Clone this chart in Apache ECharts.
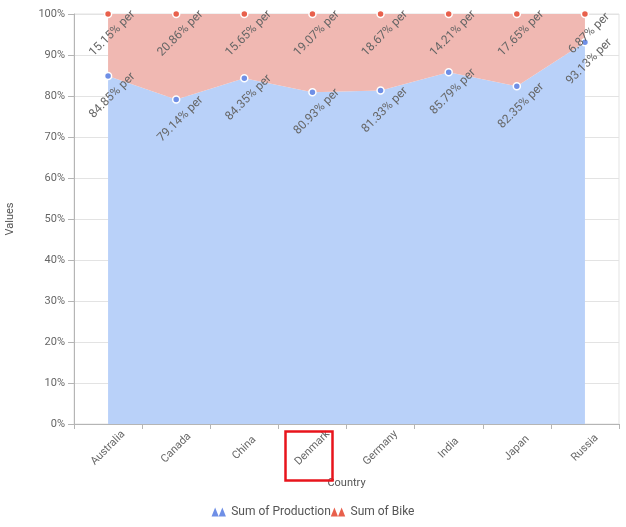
<!DOCTYPE html>
<html><head><meta charset="utf-8">
<script src="https://cdn.jsdelivr.net/npm/echarts@6/dist/echarts.min.js"></script>
<style>html,body{margin:0;padding:0;background:#fff}#c{width:626px;height:527px}</style>
</head><body><div id="c"></div>
<script>
const categories = ['Australia','Canada','China','Denmark','Germany','India','Japan','Russia'];
const productionPct = [84.85, 79.14, 84.35, 80.93, 81.33, 85.79, 82.35, 93.13];
const bikePct = [15.15, 20.86, 15.65, 19.07, 18.67, 14.21, 17.65, 6.87];
const yTicks = [0,10,20,30,40,50,60,70,80,90,100];

const chart = echarts.init(document.getElementById('c'));
const mountain = 'path://M0 10L4 0L8 10L12 0L16 10Z';
function series(name, data, fill, dot) {
  return {
    name, type: 'line', stack: 'total', data,
    symbol: 'circle', symbolSize: 7,
    itemStyle: { color: dot, borderColor: '#fff', borderWidth: 1.5 },
    lineStyle: { width: 0 },
    areaStyle: { color: fill, opacity: 1 },
    label: {
      show: true, position: 'bottom', distance: 11, rotate: 45,
      formatter: p => p.value.toFixed(2) + '% per',
      color: '#666', fontSize: 12, fontFamily: 'Roboto'
    },
    emphasis: { disabled: true }
  };
}
chart.setOption({
  animation: false,
  textStyle: { fontFamily: 'Roboto' },
  grid: { left: 74, right: 7, top: 14, bottom: 103, show: true, borderColor: '#e3e3e3', borderWidth: 1, outerBoundsMode: 'none', containLabel: false },
  legend: {
    bottom: 4, left: 'center', itemGap: 0, itemWidth: 15, itemHeight: 9,
    icon: mountain,
    itemStyle: { borderWidth: 0 },
    textStyle: { color: '#555', fontSize: 12, fontFamily: 'Roboto' },
    data: [
      { name: 'Sum of Production', icon: mountain },
      { name: 'Sum of Bike', icon: mountain }
    ]
  },
  xAxis: {
    type: 'category', data: categories,
    name: 'Country', nameLocation: 'middle', nameGap: 54,
    nameTextStyle: { color: '#555', fontSize: 11 },
    axisLine: { lineStyle: { color: '#b5b5b5' } },
    axisTick: { show: true, length: 5, lineStyle: { color: '#b5b5b5' } },
    axisLabel: { rotate: 45, color: '#666', fontSize: 11, margin: 24, align: 'center', verticalAlign: 'middle' }
  },
  yAxis: {
    type: 'value', min: yTicks[0], max: yTicks[yTicks.length-1], interval: 10,
    name: 'Values', nameLocation: 'middle', nameGap: 58,
    nameTextStyle: { color: '#555', fontSize: 11 },
    axisLine: { show: true, lineStyle: { color: '#b5b5b5' } },
    axisTick: { show: true, length: 6, lineStyle: { color: '#b5b5b5' } },
    axisLabel: { formatter: '{value}%', color: '#666', fontSize: 11, margin: 9 },
    splitLine: { lineStyle: { color: '#e3e3e3' } }
  },
  series: [
    series('Sum of Production', productionPct, '#b9d1f9', '#6f8fe6'),
    series('Sum of Bike', bikePct, '#f0b8b2', '#e8604c')
  ],
  graphic: [{
    type: 'rect', left: 283, top: 429,
    shape: { width: 47, height: 49 },
    style: { fill: 'none', stroke: '#e8141c', lineWidth: 2.5 },
    z: 100
  }]
});
</script></body></html>
